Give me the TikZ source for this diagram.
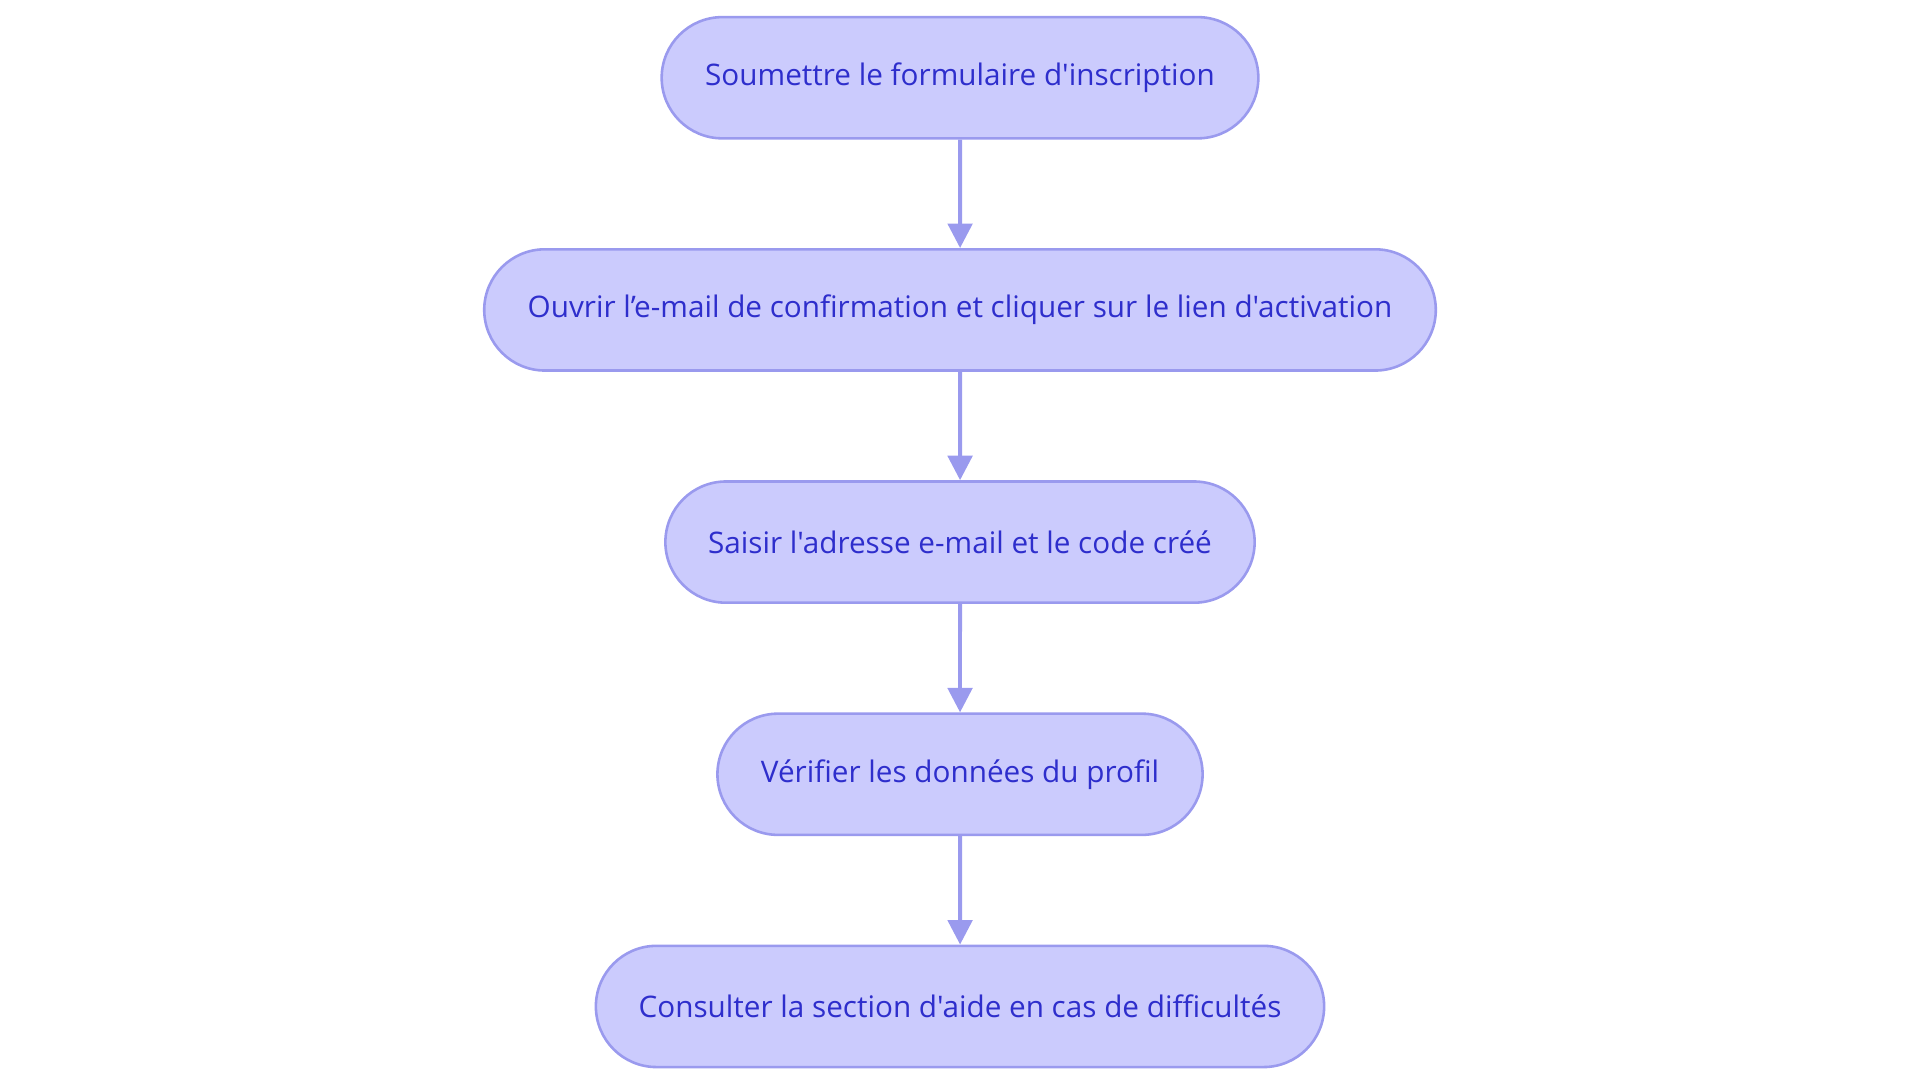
\documentclass[tikz,border=0pt]{standalone}
\usepackage{fontspec}
\setmainfont{Open Sans}[Ligatures=TeXOff]
\usetikzlibrary{arrows.meta}
\usetikzlibrary{positioning}
\usetikzlibrary{shapes.misc}
\definecolor{stepfill}{HTML}{CBCBFD}
\definecolor{stepline}{HTML}{9A9AEE}
\definecolor{steptext}{HTML}{2E2ECC}
\tikzset{
  stepbox/.style={draw=stepline, fill=stepfill, rounded rectangle, line width=0.6pt,
    minimum height=0.99cm, inner xsep=0.34cm, text=steptext, font=\fontsize{6.9pt}{9pt}\selectfont},
  flow/.style={-{Triangle[length=0.2cm,width=0.2cm]}, draw=stepline, line width=0.9pt}
}
\begin{document}
\begin{tikzpicture}[node distance=0.885cm]

    \useasboundingbox (0,0) rectangle (15.68,-8.845);

            % Nodes
            \node [stepbox] (submit) at (7.84,-0.635) {Soumettre le formulaire d'inscription};
            \node [stepbox, below=of submit] (confirm) {Ouvrir l’e-mail de confirmation et cliquer sur le lien d'activation};
            \node [stepbox, below=of confirm] (login) {Saisir l'adresse e-mail et le code créé};
            \node [stepbox, below=of login] (profile) {Vérifier les données du profil};
            \node [stepbox, below=of profile] (help) {Consulter la section d'aide en cas de difficultés};

            % Connections
            \draw [flow] (submit) -- (confirm);
            \draw [flow] (confirm) -- (login);
            \draw [flow] (login) -- (profile);
            \draw [flow] (profile) -- (help);

        \end{tikzpicture}
\end{document}
